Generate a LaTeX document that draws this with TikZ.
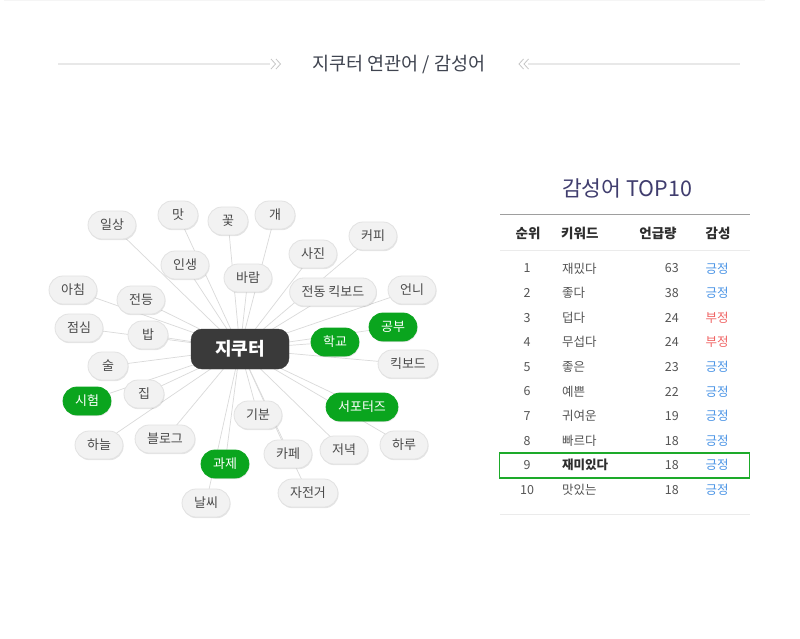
\documentclass[tikz,border=0pt]{standalone}
\usepackage{fontspec}
\setmainfont{Noto Sans CJK KR}
\usetikzlibrary{shadows,backgrounds}
\definecolor{pillfill}{HTML}{F2F2F2}
\definecolor{pillline}{HTML}{E2E2E2}
\definecolor{pilltext}{HTML}{4A4A4A}
\definecolor{greenbox}{HTML}{0AA51E}
\definecolor{darkbox}{HTML}{3A3A3A}
\definecolor{edgec}{HTML}{DADADA}
\definecolor{titlec}{HTML}{3F4450}
\definecolor{navy}{HTML}{403D6E}
\definecolor{posc}{HTML}{4A94E6}
\definecolor{negc}{HTML}{F06464}
\definecolor{rowc}{HTML}{555555}
\definecolor{headc}{HTML}{2E2E2E}
\definecolor{hlgreen}{HTML}{1DAA2A}
\tikzset{
  pill/.style={rounded corners=14pt, minimum height=28pt, minimum width=40pt, inner xsep=12pt, inner ysep=0pt,
    fill=pillfill, draw=pillline, line width=0.8pt, text=pilltext, font=\fontsize{13}{15}\selectfont,
    drop shadow={shadow xshift=0.6pt, shadow yshift=-1.2pt, opacity=0.10, fill=black}},
  gpill/.style={pill, fill=greenbox, draw=greenbox, text=white},
  hub/.style={rounded corners=11pt, minimum height=40pt, minimum width=98pt, fill=darkbox, draw=darkbox,
    text=white, font=\fontsize{18}{20}\selectfont\bfseries},
  link/.style={draw=edgec, line width=0.7pt},
  cell/.style={font=\fontsize{12.5}{14}\selectfont, text=rowc, inner sep=0pt},
  hcell/.style={font=\fontsize{13.5}{15}\selectfont\bfseries, text=headc, inner sep=0pt},
  chev/.style={draw=black!22, line width=0.8pt}
}
\begin{document}
\begin{tikzpicture}[x=1pt,y=-1pt]
\useasboundingbox (0,0) rectangle (800,638);
\begin{scope}[on background layer]
\fill[white] (0,0) rectangle (800,638);
\end{scope}
\draw[draw=black!4, line width=1pt] (4,0.5) -- (765,0.5);
% title
\node[font=\fontsize{18.5}{21}\selectfont, text=titlec, inner sep=0pt] (title) at (399,65) {지쿠터 연관어 / 감성어};
\coordinate (l1) at (58,64); \coordinate (l2) at (270,64);
\coordinate (r1) at (528,64); \coordinate (r2) at (740,64);
\draw[draw=black!9, line width=2pt] (l1) -- (l2);
\draw[draw=black!9, line width=2pt] (r1) -- (r2);
\draw[chev] (271,59) -- (275.5,64) -- (271,69) (276,59) -- (280.5,64) -- (276,69);
\draw[chev] (523.5,59) -- (519,64) -- (523.5,69) (528.5,59) -- (524,64) -- (528.5,69);

% word cloud
\node[hub] (c) at (240,349) {지쿠터};
\node[pill] (n1) at (112,225) {일상};
\node[pill] (n2) at (178,215) {맛};
\node[pill] (n3) at (228,221) {꽃};
\node[pill] (n4) at (275,215) {개};
\node[pill] (n5) at (185,265) {인생};
\node[pill] (n6) at (248,278) {바람};
\node[pill] (n7) at (313,254) {사진};
\node[pill] (n8) at (373,236) {커피};
\node[pill] (n9) at (333,292) {전동 킥보드};
\node[pill] (n10) at (412,290) {언니};
\node[pill] (n11) at (73,290) {아침};
\node[pill] (n12) at (141,300) {전등};
\node[pill] (n13) at (79,328) {점심};
\node[pill] (n14) at (148,335) {밥};
\node[gpill] (n15) at (335,342) {학교};
\node[gpill] (n16) at (393,327) {공부};
\node[pill] (n17) at (408,364) {킥보드};
\node[pill] (n18) at (108,366) {술};
\node[gpill] (n19) at (87,401) {시험};
\node[pill] (n20) at (144,394) {집};
\node[gpill] (n21) at (362,407) {서포터즈};
\node[pill] (n22) at (258,415) {기분};
\node[pill] (n23) at (99,445) {하늘};
\node[pill] (n24) at (165,439) {블로그};
\node[pill] (n25) at (404,445) {하루};
\node[pill] (n26) at (344,450) {저녁};
\node[pill] (n27) at (288,454) {카페};
\node[gpill] (n28) at (225,464) {과제};
\node[pill] (n29) at (308,493) {자전거};
\node[pill] (n30) at (206,503) {날씨};
\begin{scope}[on background layer]
\foreach \n in {n1,n2,n3,n4,n5,n6,n7,n8,n9,n10,n11,n12,n13,n14,n15,n16,n17,n18,n19,n20,n21,n22,n23,n24,n25,n26,n27,n28,n29,n30}
  \draw[link] (c.center) -- (\n.center);
\end{scope}

% table
\node[font=\fontsize{21.5}{24}\selectfont, text=navy, inner sep=0pt] (ttl) at (627,188) {감성어 TOP10};
\coordinate (t1) at (500,214.5); \coordinate (t2) at (750,214.5);
\draw[draw=black!38, line width=1pt] (t1) -- (t2);
\coordinate (s1) at (500,250.5); \coordinate (s2) at (750,250.5);
\draw[draw=black!8, line width=1.6pt] (s1) -- (s2);
\coordinate (b1) at (500,514.5); \coordinate (b2) at (750,514.5);
\draw[draw=black!8, line width=1.6pt] (b1) -- (b2);
\node[hcell] (h1) at (528,233) {순위};
\node[hcell, anchor=west] (h2) at (561,233) {키워드};
\node[hcell] (h3) at (658,233) {언급량};
\node[hcell] (h4) at (718,233) {감성};
\node[draw=hlgreen, line width=1.2pt, minimum width=250pt, minimum height=25pt, inner sep=0pt] (hl) at (624.5,465.5) {};
\foreach \r/\k/\v/\s/\col [count=\i] in {1/재밌다/63/긍정/posc, 2/좋다/38/긍정/posc, 3/덥다/24/부정/negc, 4/무섭다/24/부정/negc,
  5/좋은/23/긍정/posc, 6/예쁜/22/긍정/posc, 7/귀여운/19/긍정/posc, 8/빠르다/18/긍정/posc, 9/\textbf{\color{headc}재미있다}/18/긍정/posc, 10/맛있는/18/긍정/posc}{
  \pgfmathsetmacro{\yy}{268.5+(\i-1)*24.6}
  \node[cell] (rk\i) at (527,\yy) {\r};
  \node[cell, anchor=west] (kw\i) at (562,\yy) {\k};
  \node[cell, anchor=east] (ct\i) at (679,\yy) {\v};
  \node[cell, text=\col] (st\i) at (717,\yy) {\s};
}
\end{tikzpicture}
\end{document}
